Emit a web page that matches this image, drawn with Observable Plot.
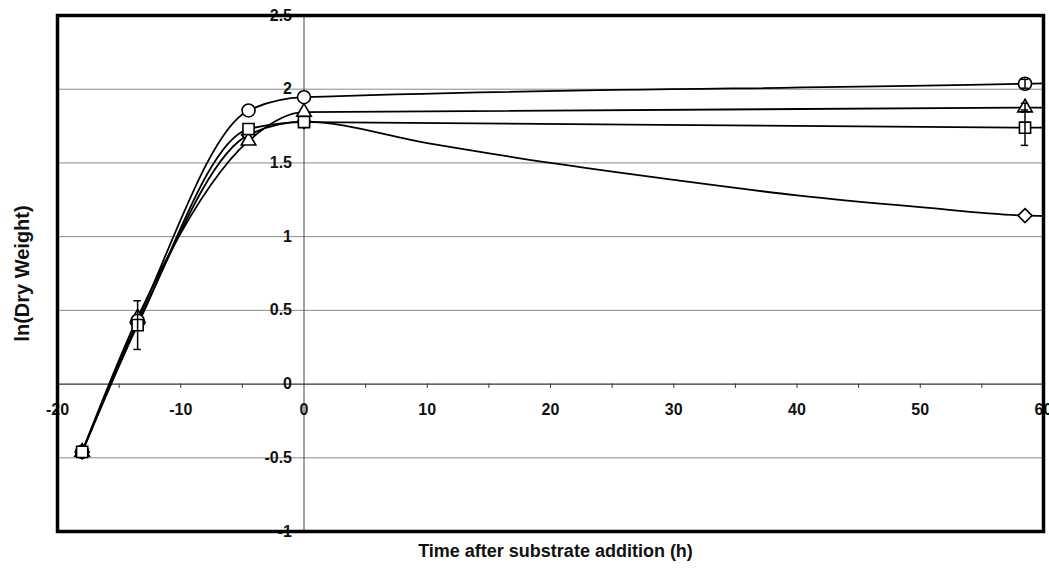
<!DOCTYPE html>
<html>
<head>
<meta charset="utf-8">
<script src="https://cdn.jsdelivr.net/npm/d3@7"></script>
<script src="https://cdn.jsdelivr.net/npm/@observablehq/plot@0.6"></script>
<style>
  html, body { margin: 0; padding: 0; background: #fff; }
  #chart { width: 1049px; height: 576px; }
</style>
</head>
<body>
<div id="chart"></div>
<script>
// ---- data ----
const times = [-18, -13.5, -4.5, 0, 58.5];
const seriesNames = ["diamond", "triangle", "circle", "square"];
const seriesSymbols = ["diamond2", "triangle", "circle", "square"];
const seriesR = [6.3, 5.4, 6.5, 6.3];

const circleVals   = [-0.46, 0.43, 1.856, 1.946, 2.037];
const triangleVals = [-0.46, 0.45, 1.65, 1.845, 1.875];
const squareVals   = [-0.46, 0.40, 1.73, 1.777, 1.739];
const diamondVals  = [-0.46, 0.41, 1.69, 1.78, 1.143];

const circleErr   = [0, 0, 0, 0, 0.03];
const triangleErr = [0, 0, 0, 0, 0.03];
const squareErr   = [0, 0.165, 0, 0, 0.12];
const diamondErr  = [0, 0, 0, 0, 0];

// curves continue to the right edge of the plot (x = 60)
const edgeTime = 60;
const edgeVals = [1.14, 1.875, 2.04, 1.74]; // diamond, triangle, circle, square

// diamond curve read between 0 h and 58.5 h
const diamondTraceTimes = [10, 20, 30, 40, 50];
const diamondTraceVals  = [1.635, 1.50, 1.385, 1.28, 1.20];

const xTickVals = [-20, -10, 0, 10, 20, 30, 40, 50, 60];
const xTickLabels = ["-20", "-10", "0", "10", "20", "30", "40", "50", "60"];
const xMinorTicks = [-15, -10, -5, 5, 10, 15, 20, 25, 30, 35, 40, 45, 50, 55];
const yTickVals = [-1, -0.5, 0, 0.5, 1, 1.5, 2, 2.5];
const yTickLabels = ["-1", "-0.5", "0", "0.5", "1", "1.5", "2", "2.5"];
const yGrid = [-0.5, 0.5, 1, 1.5, 2];

const xTitle = "Time after substrate addition (h)";
const yTitle = "ln(Dry Weight)";

// ---- build tables ----
const valsBySeries = {diamond: diamondVals, triangle: triangleVals, circle: circleVals, square: squareVals};
const errBySeries = {diamond: diamondErr, triangle: triangleErr, circle: circleErr, square: squareErr};

const markerRows = [];
const lineRows = [];
seriesNames.forEach((s, si) => {
  const vals = valsBySeries[s], errs = errBySeries[s];
  times.forEach((t, i) => {
    markerRows.push({series: s, t, v: vals[i], err: errs[i]});
    lineRows.push({series: s, t, v: vals[i]});
    if (s === "diamond" && t === 0) {
      diamondTraceTimes.forEach((tt, j) => lineRows.push({series: s, t: tt, v: diamondTraceVals[j]}));
    }
  });
  lineRows.push({series: s, t: edgeTime, v: edgeVals[si]});
});
const errRows = markerRows.filter(d => d.err > 0);
const capHalf = 0.3;

const font = "Arial, 'Liberation Sans', Helvetica, sans-serif";

const marks = [
  Plot.ruleY(yGrid, {stroke: "#8a8a8a", strokeWidth: 1}),
  Plot.ruleX([0], {stroke: "#444", strokeWidth: 1}),
  Plot.ruleY([0], {stroke: "#333", strokeWidth: 1.2}),
  Plot.ruleX(xMinorTicks, {x: d => d, y1: 0, y2: -0.03, stroke: "#333"}),
  Plot.text(yTickVals, {x: 0, y: d => d, text: (d, i) => yTickLabels[i], dx: -12, textAnchor: "end",
    fontSize: 16, fontWeight: "bold", fill: "#111"}),
  Plot.text(xTickVals, {x: d => d, y: 0, text: (d, i) => xTickLabels[i], dy: 26,
    fontSize: 16, fontWeight: "bold", fill: "#111"}),
  Plot.line(lineRows, {x: "t", y: "v", z: "series", curve: "monotone-x", stroke: "black", strokeWidth: 1.8})
];
seriesNames.forEach((s, si) => {
  marks.push(Plot.dot(markerRows.filter(d => d.series === s), {
    x: "t", y: "v", symbol: () => seriesSymbols[si], r: seriesR[si],
    fill: "white", stroke: "black", strokeWidth: 1.6
  }));
});
marks.push(
  Plot.ruleX(errRows, {x: "t", y1: d => d.v - d.err, y2: d => d.v + d.err, stroke: "black", strokeWidth: 1.5}),
  Plot.ruleY(errRows, {y: d => d.v - d.err, x1: d => d.t - capHalf, x2: d => d.t + capHalf, stroke: "black", strokeWidth: 1.5}),
  Plot.ruleY(errRows, {y: d => d.v + d.err, x1: d => d.t - capHalf, x2: d => d.t + capHalf, stroke: "black", strokeWidth: 1.5}),
  Plot.frame({stroke: "black", strokeWidth: 3.5}),
  Plot.text([yTitle], {frameAnchor: "left", textAnchor: "middle", dx: -35, rotate: -90, fontSize: 20, fontWeight: "bold", fill: "#111"}),
  Plot.text([xTitle], {frameAnchor: "bottom", textAnchor: "middle", dy: 25, dx: 5, fontSize: 18, fontWeight: "bold", fill: "#111"})
);

const chart = Plot.plot({
  width: 1049,
  height: 576,
  marginLeft: 57,
  marginRight: 6,
  marginTop: 15,
  marginBottom: 45,
  style: {fontFamily: font, background: "white", overflow: "visible"},
  x: {domain: [-20, 60], axis: null},
  y: {domain: [-1, 2.5], axis: null},
  symbol: {type: "identity"},
  marks
});
document.getElementById("chart").appendChild(chart);
</script>
</body>
</html>
